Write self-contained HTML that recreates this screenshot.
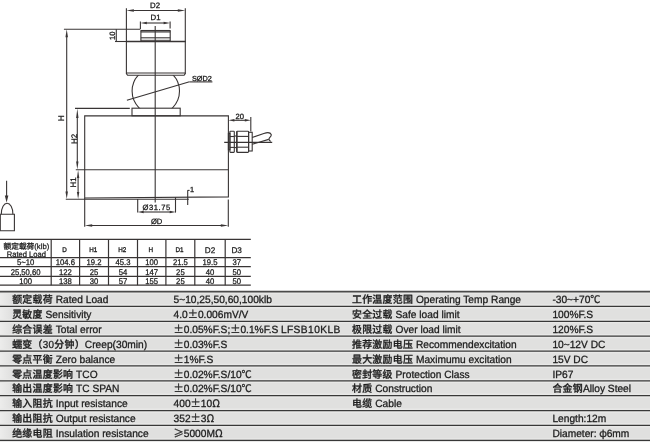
<!DOCTYPE html>
<html lang="zh">
<head>
<meta charset="utf-8">
<title>LFSB10KLB load cell</title>
<style>
html,body{margin:0;padding:0;background:#fff;}
body{width:650px;height:442px;overflow:hidden;position:relative;}
svg{position:absolute;left:0;top:0;display:block;will-change:transform;}
text{text-rendering:geometricPrecision;stroke:#1c1c1c;stroke-linejoin:round;font-family:"Liberation Sans","Noto Sans CJK SC",sans-serif;fill:#1c1c1c;white-space:pre;}
.cj{font-family:"Liberation Sans","Noto Sans CJK SC",sans-serif;font-weight:500;}
.sy{font-family:"Noto Sans CJK SC","Liberation Sans",sans-serif;}
</style>
</head>
<body>
<svg width="650" height="442" viewBox="0 0 650 442">
<g id="drawing">
<line x1="155.2" y1="26" x2="155.2" y2="202.5" stroke="#383434" stroke-width="1.1"/>
<line x1="126.4" y1="8.3" x2="126.4" y2="41" stroke="#383434" stroke-width="1.1"/>
<line x1="185.3" y1="8.3" x2="185.3" y2="41" stroke="#383434" stroke-width="1.1"/>
<line x1="133.4" y1="10.5" x2="178.3" y2="10.5" stroke="#383434" stroke-width="1.1"/>
<polygon points="126.40,10.50 133.90,9.20 133.90,11.80" fill="#383434"/>
<polygon points="185.30,10.50 177.80,9.20 177.80,11.80" fill="#383434"/>
<text x="155.0" y="7.9" font-size="7.8" text-anchor="middle" font-weight="400" stroke-width="0.3">D2</text>
<line x1="140.4" y1="21.5" x2="140.4" y2="29" stroke="#383434" stroke-width="1.1"/>
<line x1="170.1" y1="21.5" x2="170.1" y2="28.6" stroke="#383434" stroke-width="1.1"/>
<line x1="146.4" y1="23" x2="164.1" y2="23" stroke="#383434" stroke-width="1.1"/>
<polygon points="140.40,23.00 146.90,21.75 146.90,24.25" fill="#383434"/>
<polygon points="170.10,23.00 163.60,21.75 163.60,24.25" fill="#383434"/>
<text x="155.6" y="20.3" font-size="7.8" text-anchor="middle" font-weight="400" stroke-width="0.3">D1</text>
<line x1="140.9" y1="30.4" x2="140.9" y2="41" stroke="#383434" stroke-width="1.1"/>
<line x1="170.2" y1="30.4" x2="170.2" y2="41" stroke="#383434" stroke-width="1.1"/>
<line x1="140.6" y1="30.7" x2="170.5" y2="30.7" stroke="#383434" stroke-width="1.5"/>
<line x1="140.9" y1="32.0" x2="170.2" y2="32.0" stroke="#383434" stroke-width="1.0"/>
<line x1="140.9" y1="37.8" x2="170.2" y2="37.8" stroke="#383434" stroke-width="1.1"/>
<line x1="140.9" y1="40.3" x2="170.2" y2="40.3" stroke="#383434" stroke-width="0.9"/>
<line x1="125.9" y1="41.5" x2="185.8" y2="41.5" stroke="#383434" stroke-width="1.6"/>
<line x1="126.4" y1="41" x2="126.4" y2="73.9" stroke="#383434" stroke-width="1.1"/>
<line x1="185.3" y1="41" x2="185.3" y2="73.9" stroke="#383434" stroke-width="1.1"/>
<line x1="126.4" y1="73.0" x2="185.3" y2="73.0" stroke="#383434" stroke-width="1.1"/>
<path d="M126.4 73.7 L127.6 75.3 L184.1 75.3 L185.3 73.7" fill="none" stroke="#383434" stroke-width="1.1"/>
<clipPath id="bc"><rect x="120" y="75.3" width="72" height="32.9"/></clipPath>
<ellipse cx="155.8" cy="91.1" rx="23.7" ry="23.7" fill="none" stroke="#383434" stroke-width="1.1" clip-path="url(#bc)"/>
<line x1="126.9" y1="100.3" x2="189.5" y2="81.7" stroke="#383434" stroke-width="1.1"/>
<line x1="189.5" y1="81.9" x2="212.4" y2="81.9" stroke="#383434" stroke-width="1.1"/>
<text x="192" y="80.5" font-size="7.3" text-anchor="start" font-weight="400" stroke-width="0.3">SØD2</text>
<rect x="132.0" y="108.2" width="48.2" height="7.6" fill="none" stroke="#383434" stroke-width="1.1"/>
<path d="M84.7 198 L84.7 115.85 L228.4 115.7 L228.4 196.9 Z" fill="none" stroke="#383434" stroke-width="1.1"/>
<line x1="75.8" y1="169.8" x2="228.4" y2="169.8" stroke="#383434" stroke-width="1.1"/>
<line x1="65.8" y1="199.25" x2="188.8" y2="199.25" stroke="#383434" stroke-width="1.1"/>
<line x1="63.9" y1="29.3" x2="140.4" y2="29.3" stroke="#383434" stroke-width="1.1"/>
<line x1="66.7" y1="36.8" x2="66.7" y2="192.0" stroke="#383434" stroke-width="1.1"/>
<polygon points="66.70,29.30 65.45,37.30 67.95,37.30" fill="#383434"/>
<polygon points="66.70,199.00 65.45,191.50 67.95,191.50" fill="#383434"/>
<text x="64.3" y="118.2" font-size="8.3" text-anchor="middle" font-weight="400" stroke-width="0.3" transform="rotate(-90 64.3 118.2)">H</text>
<line x1="116.3" y1="29.3" x2="116.3" y2="41.5" stroke="#383434" stroke-width="1.1"/>
<line x1="115.0" y1="41.5" x2="126.4" y2="41.5" stroke="#383434" stroke-width="1.1"/>
<text x="115.4" y="35.7" font-size="7.7" text-anchor="middle" font-weight="400" stroke-width="0.3" transform="rotate(-90 115.4 35.7)">10</text>
<line x1="75.0" y1="108.35" x2="129.8" y2="108.35" stroke="#383434" stroke-width="1.1"/>
<line x1="77.3" y1="117.4" x2="77.3" y2="162.1" stroke="#383434" stroke-width="1.1"/>
<polygon points="77.30,108.40 76.10,117.90 78.50,117.90" fill="#383434"/>
<polygon points="77.30,169.60 76.10,161.60 78.50,161.60" fill="#383434"/>
<text x="76.6" y="138.9" font-size="8" text-anchor="middle" font-weight="400" stroke-width="0.3" transform="rotate(-90 76.6 138.9)">H2</text>
<line x1="78.1" y1="177.6" x2="78.1" y2="192.4" stroke="#383434" stroke-width="1.1"/>
<polygon points="78.10,170.10 76.90,178.10 79.30,178.10" fill="#383434"/>
<polygon points="78.10,198.90 76.90,191.90 79.30,191.90" fill="#383434"/>
<text x="76.0" y="182.3" font-size="8" text-anchor="middle" font-weight="400" stroke-width="0.3" transform="rotate(-90 76.0 182.3)">H1</text>
<line x1="137.7" y1="199" x2="137.7" y2="212.6" stroke="#383434" stroke-width="1.1"/>
<line x1="175.5" y1="197.3" x2="175.5" y2="212.6" stroke="#383434" stroke-width="1.1"/>
<line x1="143.2" y1="212" x2="170.2" y2="212" stroke="#383434" stroke-width="1.1"/>
<polygon points="137.70,212.00 143.70,210.80 143.70,213.20" fill="#383434"/>
<polygon points="175.70,212.00 169.70,210.80 169.70,213.20" fill="#383434"/>
<text x="156.7" y="210.2" font-size="7.6" text-anchor="middle" font-weight="400" stroke-width="0.3" letter-spacing="0.55">Ø31.75</text>
<line x1="84.7" y1="198" x2="84.7" y2="226.8" stroke="#383434" stroke-width="1.1"/>
<line x1="228.3" y1="199.6" x2="228.3" y2="226.8" stroke="#383434" stroke-width="1.1"/>
<line x1="91.7" y1="225.5" x2="221.3" y2="225.5" stroke="#383434" stroke-width="1.1"/>
<polygon points="84.70,225.50 92.20,224.20 92.20,226.80" fill="#383434"/>
<polygon points="228.30,225.50 220.80,224.20 220.80,226.80" fill="#383434"/>
<text x="156.6" y="223.8" font-size="7.6" text-anchor="middle" font-weight="400" stroke-width="0.3">ØD</text>
<line x1="187.7" y1="190.2" x2="187.7" y2="205" stroke="#383434" stroke-width="1.1"/>
<line x1="187.7" y1="190.4" x2="189.6" y2="190.4" stroke="#383434" stroke-width="1.1"/>
<text x="192.0" y="192.2" font-size="7.4" text-anchor="middle" font-weight="400" stroke-width="0.3">1</text>
<line x1="250.8" y1="117" x2="250.8" y2="131.5" stroke="#383434" stroke-width="1.1"/>
<line x1="233.9" y1="120.3" x2="245.3" y2="120.3" stroke="#383434" stroke-width="1.1"/>
<polygon points="228.40,120.30 234.40,119.10 234.40,121.50" fill="#383434"/>
<polygon points="250.80,120.30 244.80,119.10 244.80,121.50" fill="#383434"/>
<text x="239.8" y="118.7" font-size="7.6" text-anchor="middle" font-weight="400" stroke-width="0.3">20</text>
<line x1="224.2" y1="142.4" x2="272.2" y2="142.4" stroke="#383434" stroke-width="1.1"/>
<rect x="228.4" y="133.4" width="1.5" height="16.4" fill="none" stroke="#383434" stroke-width="1.1"/>
<rect x="229.9" y="131.3" width="4.4" height="21.1" rx="0.6" fill="none" stroke="#383434" stroke-width="1.1"/>
<line x1="229.9" y1="136.5" x2="234.3" y2="136.5" stroke="#383434" stroke-width="1.1"/>
<line x1="229.9" y1="147.4" x2="234.3" y2="147.4" stroke="#383434" stroke-width="1.1"/>
<line x1="234.3" y1="136.0" x2="236.6" y2="136.0" stroke="#383434" stroke-width="1.1"/>
<line x1="234.3" y1="147.6" x2="236.6" y2="147.6" stroke="#383434" stroke-width="1.1"/>
<rect x="236.6" y="131.2" width="12.0" height="21.2" rx="0.8" fill="none" stroke="#383434" stroke-width="1.1"/>
<line x1="237.3" y1="131.4" x2="237.3" y2="152.2" stroke="#383434" stroke-width="0.8"/>
<line x1="236.6" y1="136.4" x2="248.6" y2="136.4" stroke="#383434" stroke-width="1.1"/>
<line x1="236.6" y1="147.2" x2="248.6" y2="147.2" stroke="#383434" stroke-width="1.1"/>
<rect x="248.6" y="132.3" width="3.6" height="18.7" fill="none" stroke="#383434" stroke-width="1.1"/>
<path d="M252.2 137.5 L263.8 133.4 C267.2 132.3 270.5 132.7 271.2 134.5 C271.9 136.4 268.4 137.8 269.0 139.5 C269.3 140.4 270 141 270.6 141.5" fill="none" stroke="#383434" stroke-width="1.1"/>
<path d="M252.2 144.3 L268.7 139.4" fill="none" stroke="#383434" stroke-width="1.1"/>
<line x1="6.6" y1="180.8" x2="6.6" y2="197" stroke="#383434" stroke-width="1.1"/>
<polygon points="6.60,202.80 4.80,195.50 8.40,195.50" fill="#383434"/>
<path d="M1.3 214.2 C1.3 207.6 4 203.3 7.1 203.3 C10.2 203.3 12.9 207.6 12.9 214.2" fill="none" stroke="#383434" stroke-width="1.1"/>
<path d="M0 214.2 L14.4 214.2 L14.4 230.8 L0 230.8" fill="none" stroke="#383434" stroke-width="1.1"/>
<line x1="0.3" y1="214.2" x2="0.3" y2="230.8" stroke="#383434" stroke-width="1.1"/>
</g>
<g id="dimtable">
<line x1="0" y1="239.4" x2="250.8" y2="239.4" stroke="#383434" stroke-width="1.2"/>
<line x1="0" y1="257.7" x2="250.8" y2="257.7" stroke="#383434" stroke-width="1.2"/>
<line x1="0" y1="266.7" x2="250.8" y2="266.7" stroke="#383434" stroke-width="1.2"/>
<line x1="0" y1="276.3" x2="250.8" y2="276.3" stroke="#383434" stroke-width="1.2"/>
<line x1="0" y1="285.2" x2="250.8" y2="285.2" stroke="#383434" stroke-width="1.2"/>
<line x1="51.2" y1="239.4" x2="51.2" y2="285.2" stroke="#383434" stroke-width="1.2"/>
<line x1="79.6" y1="239.4" x2="79.6" y2="285.2" stroke="#383434" stroke-width="1.2"/>
<line x1="108.5" y1="239.4" x2="108.5" y2="285.2" stroke="#383434" stroke-width="1.2"/>
<line x1="137.5" y1="239.4" x2="137.5" y2="285.2" stroke="#383434" stroke-width="1.2"/>
<line x1="165.9" y1="239.4" x2="165.9" y2="285.2" stroke="#383434" stroke-width="1.2"/>
<line x1="194.8" y1="239.4" x2="194.8" y2="285.2" stroke="#383434" stroke-width="1.2"/>
<line x1="225.2" y1="239.4" x2="225.2" y2="285.2" stroke="#383434" stroke-width="1.2"/>
<text x="26.4" y="249.0" font-size="7.7" text-anchor="middle" font-weight="400" stroke-width="0.25" class="cj">额定载荷(klb)</text>
<text x="26.4" y="0" font-size="7.6" text-anchor="middle" font-weight="400" stroke-width="0.25" transform="translate(0 257.2) scale(1 1.05)">Rated Load</text>
<text x="64.6" y="0" font-size="6.3" text-anchor="middle" font-weight="400" stroke-width="0.3" transform="translate(0 252.1) scale(1 1.08)">D</text>
<text x="93.2" y="0" font-size="6.3" text-anchor="middle" font-weight="400" stroke-width="0.3" transform="translate(0 252.1) scale(1 1.08)">H1</text>
<text x="122.2" y="0" font-size="6.3" text-anchor="middle" font-weight="400" stroke-width="0.3" transform="translate(0 252.1) scale(1 1.08)">H2</text>
<text x="150.9" y="0" font-size="6.3" text-anchor="middle" font-weight="400" stroke-width="0.3" transform="translate(0 252.1) scale(1 1.08)">H</text>
<text x="179.6" y="0" font-size="6.3" text-anchor="middle" font-weight="400" stroke-width="0.3" transform="translate(0 252.1) scale(1 1.08)">D1</text>
<text x="210.0" y="253.2" font-size="8.2" text-anchor="middle" font-weight="400" stroke-width="0.25">D2</text>
<text x="236.7" y="253.2" font-size="8.2" text-anchor="middle" font-weight="400" stroke-width="0.25">D3</text>
<text x="25.6" y="0" font-size="7.7" text-anchor="middle" font-weight="400" stroke-width="0.25" transform="translate(0 265.3) scale(1 1.07)">5~10</text>
<text x="65.4" y="0" font-size="7.7" text-anchor="middle" font-weight="400" stroke-width="0.25" transform="translate(0 265.3) scale(1 1.07)">104.6</text>
<text x="94.0" y="0" font-size="7.7" text-anchor="middle" font-weight="400" stroke-width="0.25" transform="translate(0 265.3) scale(1 1.07)">19.2</text>
<text x="123.0" y="0" font-size="7.7" text-anchor="middle" font-weight="400" stroke-width="0.25" transform="translate(0 265.3) scale(1 1.07)">45.3</text>
<text x="151.7" y="0" font-size="7.7" text-anchor="middle" font-weight="400" stroke-width="0.25" transform="translate(0 265.3) scale(1 1.07)">100</text>
<text x="180.4" y="0" font-size="7.7" text-anchor="middle" font-weight="400" stroke-width="0.25" transform="translate(0 265.3) scale(1 1.07)">21.5</text>
<text x="210.0" y="0" font-size="7.7" text-anchor="middle" font-weight="400" stroke-width="0.25" transform="translate(0 265.3) scale(1 1.07)">19.5</text>
<text x="236.7" y="0" font-size="7.7" text-anchor="middle" font-weight="400" stroke-width="0.25" transform="translate(0 265.3) scale(1 1.07)">37</text>
<text x="25.6" y="0" font-size="7.7" text-anchor="middle" font-weight="400" stroke-width="0.25" transform="translate(0 274.7) scale(1 1.07)">25,50,60</text>
<text x="65.4" y="0" font-size="7.7" text-anchor="middle" font-weight="400" stroke-width="0.25" transform="translate(0 274.7) scale(1 1.07)">122</text>
<text x="94.0" y="0" font-size="7.7" text-anchor="middle" font-weight="400" stroke-width="0.25" transform="translate(0 274.7) scale(1 1.07)">25</text>
<text x="123.0" y="0" font-size="7.7" text-anchor="middle" font-weight="400" stroke-width="0.25" transform="translate(0 274.7) scale(1 1.07)">54</text>
<text x="151.7" y="0" font-size="7.7" text-anchor="middle" font-weight="400" stroke-width="0.25" transform="translate(0 274.7) scale(1 1.07)">147</text>
<text x="180.4" y="0" font-size="7.7" text-anchor="middle" font-weight="400" stroke-width="0.25" transform="translate(0 274.7) scale(1 1.07)">25</text>
<text x="210.0" y="0" font-size="7.7" text-anchor="middle" font-weight="400" stroke-width="0.25" transform="translate(0 274.7) scale(1 1.07)">40</text>
<text x="236.7" y="0" font-size="7.7" text-anchor="middle" font-weight="400" stroke-width="0.25" transform="translate(0 274.7) scale(1 1.07)">50</text>
<text x="25.6" y="0" font-size="7.7" text-anchor="middle" font-weight="400" stroke-width="0.25" transform="translate(0 283.6) scale(1 1.07)">100</text>
<text x="65.4" y="0" font-size="7.7" text-anchor="middle" font-weight="400" stroke-width="0.25" transform="translate(0 283.6) scale(1 1.07)">138</text>
<text x="94.0" y="0" font-size="7.7" text-anchor="middle" font-weight="400" stroke-width="0.25" transform="translate(0 283.6) scale(1 1.07)">30</text>
<text x="123.0" y="0" font-size="7.7" text-anchor="middle" font-weight="400" stroke-width="0.25" transform="translate(0 283.6) scale(1 1.07)">57</text>
<text x="151.7" y="0" font-size="7.7" text-anchor="middle" font-weight="400" stroke-width="0.25" transform="translate(0 283.6) scale(1 1.07)">155</text>
<text x="180.4" y="0" font-size="7.7" text-anchor="middle" font-weight="400" stroke-width="0.25" transform="translate(0 283.6) scale(1 1.07)">25</text>
<text x="210.0" y="0" font-size="7.7" text-anchor="middle" font-weight="400" stroke-width="0.25" transform="translate(0 283.6) scale(1 1.07)">40</text>
<text x="236.7" y="0" font-size="7.7" text-anchor="middle" font-weight="400" stroke-width="0.25" transform="translate(0 283.6) scale(1 1.07)">50</text>
</g>
<g id="spec">
<rect x="0" y="291" width="650" height="151" fill="#e0e0df"/>
<linearGradient id="lg" x1="0" x2="1" y1="0" y2="0"><stop offset="0" stop-color="#fff" stop-opacity="0.4"/><stop offset="1" stop-color="#fff" stop-opacity="0"/></linearGradient>
<rect x="0" y="291" width="12" height="151" fill="url(#lg)"/>
<line x1="0" y1="292.6" x2="650" y2="292.6" stroke="#e8e8e7" stroke-width="2.2"/>
<line x1="0" y1="306.38" x2="650" y2="306.38" stroke="#e8e8e7" stroke-width="4.2"/>
<line x1="0" y1="321.27" x2="650" y2="321.27" stroke="#e8e8e7" stroke-width="4.2"/>
<line x1="0" y1="336.15" x2="650" y2="336.15" stroke="#e8e8e7" stroke-width="4.2"/>
<line x1="0" y1="351.04" x2="650" y2="351.04" stroke="#e8e8e7" stroke-width="4.2"/>
<line x1="0" y1="365.93" x2="650" y2="365.93" stroke="#e8e8e7" stroke-width="4.2"/>
<line x1="0" y1="380.81" x2="650" y2="380.81" stroke="#e8e8e7" stroke-width="4.2"/>
<line x1="0" y1="395.69" x2="650" y2="395.69" stroke="#e8e8e7" stroke-width="4.2"/>
<line x1="0" y1="410.58" x2="650" y2="410.58" stroke="#e8e8e7" stroke-width="4.2"/>
<line x1="0" y1="425.47" x2="650" y2="425.47" stroke="#e8e8e7" stroke-width="4.2"/>
<line x1="0" y1="440.35" x2="650" y2="440.35" stroke="#e8e8e7" stroke-width="4.2"/>
<line x1="0" y1="291.6" x2="650" y2="291.6" stroke="#4a4a4a" stroke-width="1.6"/>
<line x1="0" y1="306.38" x2="650" y2="306.38" stroke="#383838" stroke-width="1.25"/>
<line x1="0" y1="321.27" x2="650" y2="321.27" stroke="#383838" stroke-width="1.25"/>
<line x1="0" y1="336.15" x2="650" y2="336.15" stroke="#383838" stroke-width="1.25"/>
<line x1="0" y1="351.04" x2="650" y2="351.04" stroke="#383838" stroke-width="1.25"/>
<line x1="0" y1="365.93" x2="650" y2="365.93" stroke="#383838" stroke-width="1.25"/>
<line x1="0" y1="380.81" x2="650" y2="380.81" stroke="#383838" stroke-width="1.25"/>
<line x1="0" y1="395.69" x2="650" y2="395.69" stroke="#383838" stroke-width="1.25"/>
<line x1="0" y1="410.58" x2="650" y2="410.58" stroke="#383838" stroke-width="1.25"/>
<line x1="0" y1="425.47" x2="650" y2="425.47" stroke="#383838" stroke-width="1.25"/>
<line x1="0" y1="440.35" x2="650" y2="440.35" stroke="#383838" stroke-width="1.25"/>
<text x="12.2" y="0" font-size="10.2" text-anchor="start" font-weight="400" stroke-width="0.28" transform="translate(0 303.1) scale(1 1.03)"><tspan class="cj" font-size="9.9" letter-spacing="0.3">额定载荷</tspan> Rated Load</text>
<text x="173.6" y="0" font-size="10.2" text-anchor="start" font-weight="400" stroke-width="0.28" transform="translate(0 303.1) scale(1 1.03)">5~10,25,50,60,100klb</text>
<text x="352" y="0" font-size="10.2" text-anchor="start" font-weight="400" stroke-width="0.28" transform="translate(0 303.1) scale(1 1.03)"><tspan class="cj" font-size="9.9" letter-spacing="0.3">工作温度范围</tspan> Operating Temp Range</text>
<text x="552.4" y="0" font-size="10.2" text-anchor="start" font-weight="400" stroke-width="0.28" transform="translate(0 303.1) scale(1 1.03)">-30~+70<tspan class="sy">℃</tspan></text>
<text x="12.2" y="0" font-size="10.2" text-anchor="start" font-weight="400" stroke-width="0.28" transform="translate(0 317.99) scale(1 1.03)"><tspan class="cj" font-size="9.9" letter-spacing="0.3">灵敏度</tspan> Sensitivity</text>
<text x="173.6" y="0" font-size="10.2" text-anchor="start" font-weight="400" stroke-width="0.28" transform="translate(0 317.99) scale(1 1.03)">4.0<tspan class="sy">±</tspan>0.006mV/V</text>
<text x="352" y="0" font-size="10.2" text-anchor="start" font-weight="400" stroke-width="0.28" transform="translate(0 317.99) scale(1 1.03)"><tspan class="cj" font-size="9.9" letter-spacing="0.3">安全过载</tspan> Safe load limit</text>
<text x="552.4" y="0" font-size="10.2" text-anchor="start" font-weight="400" stroke-width="0.28" transform="translate(0 317.99) scale(1 1.03)">100%F.S</text>
<text x="12.2" y="0" font-size="10.2" text-anchor="start" font-weight="400" stroke-width="0.28" transform="translate(0 332.87) scale(1 1.03)"><tspan class="cj" font-size="9.9" letter-spacing="0.3">综合误差</tspan> Total error</text>
<text x="173.6" y="0" font-size="10.2" text-anchor="start" font-weight="400" stroke-width="0.28" transform="translate(0 332.87) scale(1 1.03)"><tspan class="sy">±</tspan>0.05%F.S;<tspan class="sy">±</tspan>0.1%F.S <tspan x="280.9" letter-spacing="0.42">LFSB10KLB</tspan></text>
<text x="352" y="0" font-size="10.2" text-anchor="start" font-weight="400" stroke-width="0.28" transform="translate(0 332.87) scale(1 1.03)"><tspan class="cj" font-size="9.9" letter-spacing="0.3">极限过载</tspan> Over load limit</text>
<text x="552.4" y="0" font-size="10.2" text-anchor="start" font-weight="400" stroke-width="0.28" transform="translate(0 332.87) scale(1 1.03)">120%F.S</text>
<text x="12.2" y="0" font-size="10.2" text-anchor="start" font-weight="400" stroke-width="0.28" transform="translate(0 347.75) scale(1 1.03)"><tspan class="cj" font-size="9.9" letter-spacing="0.3">蠕变（30分钟）</tspan>Creep(30min)</text>
<text x="173.6" y="0" font-size="10.2" text-anchor="start" font-weight="400" stroke-width="0.28" transform="translate(0 347.75) scale(1 1.03)"><tspan class="sy">±</tspan>0.03%F.S</text>
<text x="352" y="0" font-size="10.2" text-anchor="start" font-weight="400" stroke-width="0.28" transform="translate(0 347.75) scale(1 1.03)"><tspan class="cj" font-size="9.9" letter-spacing="0.3">推荐激励电压</tspan> Recommendexcitation</text>
<text x="552.4" y="0" font-size="10.2" text-anchor="start" font-weight="400" stroke-width="0.28" transform="translate(0 347.75) scale(1 1.03)">10~12V DC</text>
<text x="12.2" y="0" font-size="10.2" text-anchor="start" font-weight="400" stroke-width="0.28" transform="translate(0 362.64) scale(1 1.03)"><tspan class="cj" font-size="9.9" letter-spacing="0.3">零点平衡</tspan> Zero balance</text>
<text x="173.6" y="0" font-size="10.2" text-anchor="start" font-weight="400" stroke-width="0.28" transform="translate(0 362.64) scale(1 1.03)"><tspan class="sy">±</tspan>1%F.S</text>
<text x="352" y="0" font-size="10.2" text-anchor="start" font-weight="400" stroke-width="0.28" transform="translate(0 362.64) scale(1 1.03)"><tspan class="cj" font-size="9.9" letter-spacing="0.3">最大激励电压</tspan> Maximumu excitation</text>
<text x="552.4" y="0" font-size="10.2" text-anchor="start" font-weight="400" stroke-width="0.28" transform="translate(0 362.64) scale(1 1.03)">15V DC</text>
<text x="12.2" y="0" font-size="10.2" text-anchor="start" font-weight="400" stroke-width="0.28" transform="translate(0 377.53) scale(1 1.03)"><tspan class="cj" font-size="9.9" letter-spacing="0.3">零点温度影响</tspan> TCO</text>
<text x="173.6" y="0" font-size="10.2" text-anchor="start" font-weight="400" stroke-width="0.28" transform="translate(0 377.53) scale(1 1.03)"><tspan class="sy">±</tspan>0.02%F.S/10<tspan class="sy">℃</tspan></text>
<text x="352" y="0" font-size="10.2" text-anchor="start" font-weight="400" stroke-width="0.28" transform="translate(0 377.53) scale(1 1.03)"><tspan class="cj" font-size="9.9" letter-spacing="0.3">密封等级</tspan> Protection Class</text>
<text x="552.4" y="0" font-size="10.2" text-anchor="start" font-weight="400" stroke-width="0.28" transform="translate(0 377.53) scale(1 1.03)">IP67</text>
<text x="12.2" y="0" font-size="10.2" text-anchor="start" font-weight="400" stroke-width="0.28" transform="translate(0 392.41) scale(1 1.03)"><tspan class="cj" font-size="9.9" letter-spacing="0.3">输出温度影响</tspan> TC SPAN</text>
<text x="173.6" y="0" font-size="10.2" text-anchor="start" font-weight="400" stroke-width="0.28" transform="translate(0 392.41) scale(1 1.03)"><tspan class="sy">±</tspan>0.02%F.S/10<tspan class="sy">℃</tspan></text>
<text x="352" y="0" font-size="10.2" text-anchor="start" font-weight="400" stroke-width="0.28" transform="translate(0 392.41) scale(1 1.03)"><tspan class="cj" font-size="9.9" letter-spacing="0.3">材质</tspan> Construction</text>
<text x="552.4" y="0" font-size="10.2" text-anchor="start" font-weight="400" stroke-width="0.28" transform="translate(0 392.41) scale(1 1.03)"><tspan class="cj" font-size="9.9" letter-spacing="0.3">合金钢</tspan>Alloy Steel</text>
<text x="12.2" y="0" font-size="10.2" text-anchor="start" font-weight="400" stroke-width="0.28" transform="translate(0 407.3) scale(1 1.03)"><tspan class="cj" font-size="9.9" letter-spacing="0.3">输入阻抗</tspan> Input resistance</text>
<text x="173.6" y="0" font-size="10.2" text-anchor="start" font-weight="400" stroke-width="0.28" transform="translate(0 407.3) scale(1 1.03)">400<tspan class="sy">±</tspan>10<tspan class="sy">Ω</tspan></text>
<text x="352" y="0" font-size="10.2" text-anchor="start" font-weight="400" stroke-width="0.28" transform="translate(0 407.3) scale(1 1.03)"><tspan class="cj" font-size="9.9" letter-spacing="0.3">电缆</tspan> Cable</text>
<text x="12.2" y="0" font-size="10.2" text-anchor="start" font-weight="400" stroke-width="0.28" transform="translate(0 422.18) scale(1 1.03)"><tspan class="cj" font-size="9.9" letter-spacing="0.3">输出阻抗</tspan> Output resistance</text>
<text x="173.6" y="0" font-size="10.2" text-anchor="start" font-weight="400" stroke-width="0.28" transform="translate(0 422.18) scale(1 1.03)">352<tspan class="sy">±</tspan>3<tspan class="sy">Ω</tspan></text>
<text x="552.4" y="0" font-size="10.2" text-anchor="start" font-weight="400" stroke-width="0.28" transform="translate(0 422.18) scale(1 1.03)">Length:12m</text>
<text x="12.2" y="0" font-size="10.2" text-anchor="start" font-weight="400" stroke-width="0.28" transform="translate(0 437.07) scale(1 1.03)"><tspan class="cj" font-size="9.9" letter-spacing="0.3">绝缘电阻</tspan> Insulation resistance</text>
<text x="173.6" y="0" font-size="10.2" text-anchor="start" font-weight="400" stroke-width="0.28" transform="translate(0 437.07) scale(1 1.03)"><tspan class="sy">≥</tspan>5000M<tspan class="sy">Ω</tspan></text>
<text x="552.4" y="0" font-size="10.2" text-anchor="start" font-weight="400" stroke-width="0.28" transform="translate(0 437.07) scale(1 1.03)">Diameter: <tspan class="sy" x="599.2">φ</tspan><tspan x="606.7">6mm</tspan></text>
</g>
</svg>
</body>
</html>
